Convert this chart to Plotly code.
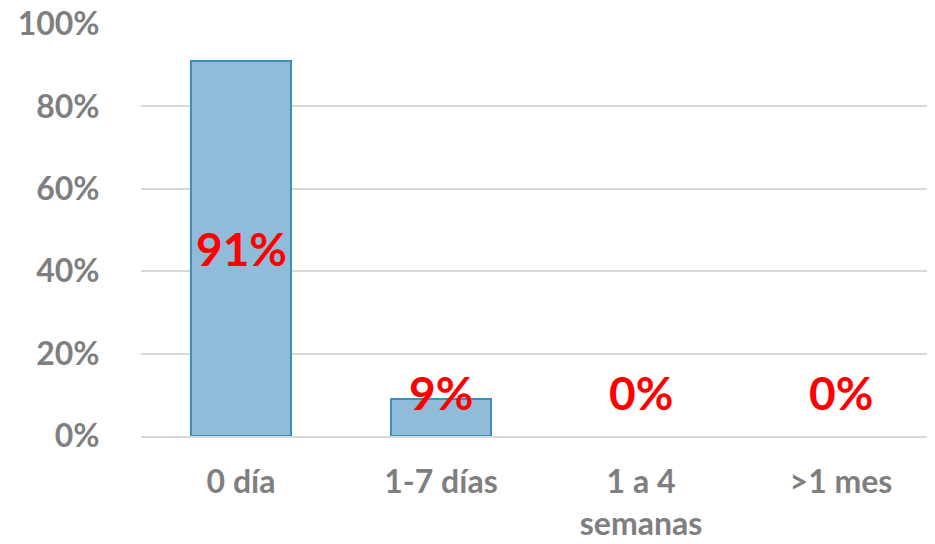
import plotly.graph_objects as go

categories = ["0 día", "1-7 días", "1 a 4<br>semanas", ">1 mes"]
values = [0.91, 0.09, 0.0, 0.0]
value_labels = ["91%", "9%", "0%", "0%"]
tick_vals = [0, 0.2, 0.4, 0.6, 0.8, 1.0]
tick_text = ["0%", "20%", "40%", "60%", "80%", "100%"]

FONT = "Lato"
GRAY = "#7f7f7f"

fig = go.Figure()
fig.add_trace(go.Bar(
    x=categories, y=values,
    marker=dict(color="#91bcd9",
                line=dict(color="#3a92bd", width=[2 if v > 0 else 0 for v in values])),
    hoverinfo="skip",
))

for c, v, t in zip(categories, values, value_labels):
    fig.add_annotation(
        x=c, y=max(v / 2, 0.105), text="<b>%s</b>" % t, showarrow=False,
        font=dict(family=FONT, size=46, color="#ff0000"),
        xanchor="center", yanchor="middle",
    )

# page body has an 8px margin; size the figure so it fits the 935x544 window
fig.update_layout(
    width=927, height=528,
    margin=dict(l=133, r=0, t=16, b=100),
    paper_bgcolor="white", plot_bgcolor="white",
    bargap=0.5, showlegend=False,
    font=dict(family=FONT, color=GRAY),
)
fig.update_yaxes(
    range=[0, 1], tickvals=tick_vals, ticktext=["<b>%s</b>" % t for t in tick_text],
    tickfont=dict(family=FONT, size=32, color=GRAY),
    showgrid=True, gridcolor="#d9d9d9", gridwidth=2, automargin=False,
    ticklabeloverflow="allow",
    zeroline=False, ticks="outside", ticklen=34, tickcolor="rgba(0,0,0,0)",
)
fig.update_xaxes(
    range=[-0.5, 3.47],
    tickvals=categories, ticktext=["<b>%s</b>" % c for c in categories],
    tickfont=dict(family=FONT, size=32, color=GRAY), automargin=False,
    ticklabeloverflow="allow",
    showline=True, linecolor="#d9d9d9", linewidth=2,
    ticks="outside", ticklen=17, tickcolor="rgba(0,0,0,0)",
)

fig.write_html("out.html")
